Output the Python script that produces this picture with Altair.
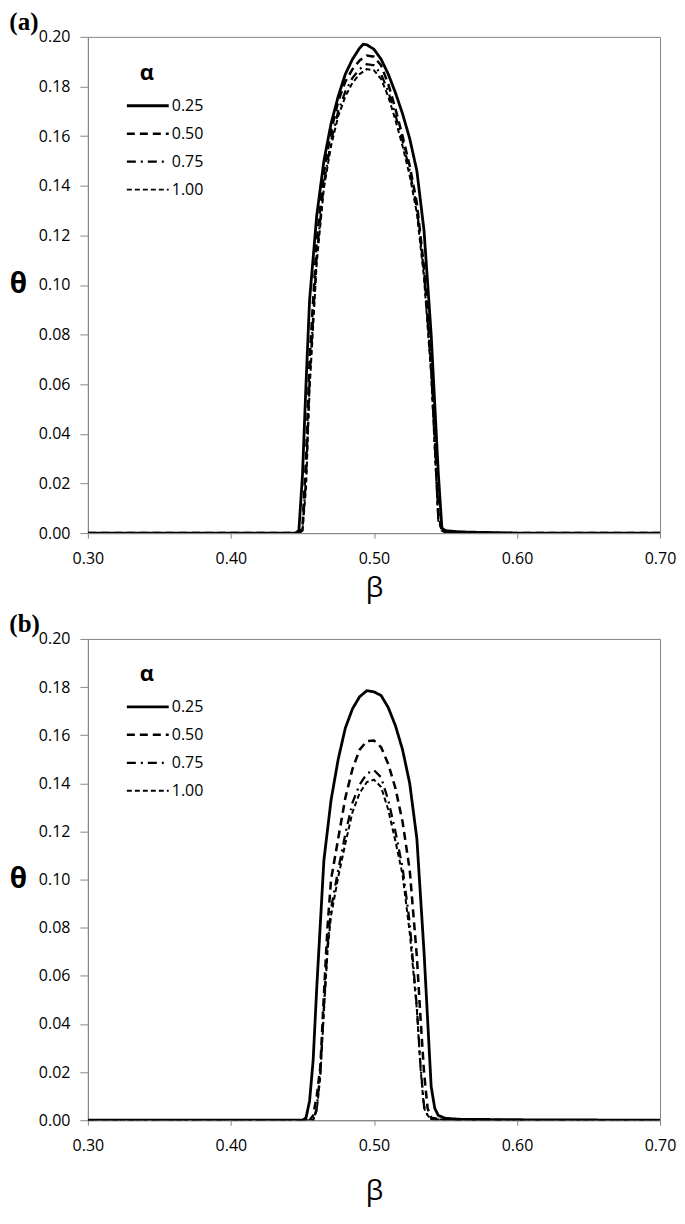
import altair as alt
import pandas as pd

ALPHAS = ["0.25", "0.50", "0.75", "1.00"]
X_TICKS = [0.30, 0.40, 0.50, 0.60, 0.70]
Y_TICKS = [0.00, 0.02, 0.04, 0.06, 0.08, 0.10, 0.12, 0.14, 0.16, 0.18, 0.20]

# ---------------- panel (a) ----------------
a_beta_025 = [0.30, 0.40, 0.445, 0.4475, 0.450, 0.4525, 0.455, 0.460, 0.465, 0.470,
              0.475, 0.480, 0.485, 0.490, 0.4925, 0.495, 0.500, 0.505, 0.510, 0.515,
              0.520, 0.525, 0.530, 0.535, 0.540, 0.545, 0.5475, 0.550, 0.560, 0.580,
              0.600, 0.700]
a_theta_025 = [0, 0, 0, 0.001, 0.023, 0.060, 0.094, 0.128, 0.150, 0.165,
               0.176, 0.185, 0.191, 0.1955, 0.197, 0.1968, 0.195, 0.191, 0.185, 0.1775,
               0.169, 0.159, 0.146, 0.122, 0.080, 0.024, 0.002, 0.001, 0.0005, 0.0002,
               0, 0]

a_beta = [0.30, 0.40, 0.4475, 0.450, 0.4525, 0.455, 0.460, 0.465, 0.470, 0.475,
          0.480, 0.485, 0.490, 0.495, 0.500, 0.505, 0.510, 0.515, 0.520, 0.525,
          0.530, 0.535, 0.540, 0.5425, 0.545, 0.5475, 0.550, 0.600, 0.700]
a_theta_050 = [0, 0, 0, 0.002, 0.030, 0.070, 0.118, 0.145, 0.162, 0.174,
               0.182, 0.187, 0.1905, 0.1925, 0.192, 0.1885, 0.181, 0.171, 0.160, 0.148,
               0.133, 0.107, 0.068, 0.040, 0.008, 0.001, 0.0005, 0, 0]
a_theta_075 = [0, 0, 0, 0.001, 0.022, 0.062, 0.112, 0.141, 0.158, 0.170,
               0.178, 0.1835, 0.187, 0.189, 0.1885, 0.185, 0.178, 0.1685, 0.158, 0.146,
               0.131, 0.105, 0.066, 0.036, 0.006, 0.001, 0.0004, 0, 0]
a_theta_100 = [0, 0, 0, 0.001, 0.018, 0.058, 0.109, 0.139, 0.156, 0.168,
               0.176, 0.1815, 0.185, 0.187, 0.1865, 0.183, 0.176, 0.1665, 0.156, 0.144,
               0.129, 0.103, 0.064, 0.034, 0.005, 0.001, 0.0003, 0, 0]

# ---------------- panel (b) ----------------
b_beta_025 = [0.30, 0.40, 0.450, 0.4525, 0.455, 0.4575, 0.460, 0.465, 0.470, 0.475,
              0.480, 0.485, 0.490, 0.495, 0.500, 0.505, 0.510, 0.515, 0.520, 0.525,
              0.530, 0.535, 0.540, 0.5425, 0.545, 0.550, 0.560, 0.600, 0.700]
b_theta_025 = [0, 0, 0, 0.001, 0.008, 0.025, 0.055, 0.108, 0.133, 0.150,
               0.163, 0.171, 0.176, 0.1785, 0.178, 0.1765, 0.1715, 0.164, 0.154, 0.140,
               0.117, 0.070, 0.014, 0.005, 0.002, 0.0008, 0.0004, 0.0002, 0]

b_beta = [0.30, 0.40, 0.455, 0.4575, 0.460, 0.4625, 0.465, 0.4675, 0.470, 0.475,
          0.480, 0.485, 0.490, 0.495, 0.500, 0.505, 0.510, 0.515, 0.520, 0.525,
          0.530, 0.5325, 0.535, 0.5375, 0.540, 0.545, 0.550, 0.600, 0.700]
b_theta_050 = [0, 0, 0, 0.002, 0.010, 0.022, 0.052, 0.080, 0.100, 0.117,
               0.134, 0.146, 0.154, 0.1575, 0.1578, 0.155, 0.148, 0.138, 0.124, 0.104,
               0.068, 0.043, 0.020, 0.005, 0.001, 0.0005, 0.0003, 0, 0]
b_theta_075 = [0, 0, 0, 0, 0.005, 0.020, 0.047, 0.072, 0.088, 0.104,
               0.119, 0.132, 0.1395, 0.144, 0.1455, 0.1425, 0.133, 0.120, 0.105, 0.082,
               0.047, 0.023, 0.006, 0.002, 0.0005, 0.0003, 0.0002, 0, 0]
b_theta_100 = [0, 0, 0, 0, 0.004, 0.018, 0.045, 0.070, 0.085, 0.101,
               0.115, 0.128, 0.136, 0.1405, 0.1415, 0.1385, 0.129, 0.116, 0.102, 0.078,
               0.046, 0.022, 0.005, 0.002, 0.0005, 0.0003, 0.0002, 0, 0]


def frame(series):
    rows = []
    for alpha, xs, ys in series:
        for x, y in zip(xs, ys):
            rows.append({"beta": x, "theta": y, "alpha": alpha})
    return pd.DataFrame(rows)


df_a = frame([("0.25", a_beta_025, a_theta_025), ("0.50", a_beta, a_theta_050),
              ("0.75", a_beta, a_theta_075), ("1.00", a_beta, a_theta_100)])
df_b = frame([("0.25", b_beta_025, b_theta_025), ("0.50", b_beta, b_theta_050),
              ("0.75", b_beta, b_theta_075), ("1.00", b_beta, b_theta_100)])

FONT = "Open Sans"
GRAY = "#868686"
PLOT_W = 573

dash_scale = alt.Scale(domain=ALPHAS, range=[[1, 0], [8, 5], [9, 5, 2, 5], [5, 3]])
width_scale = alt.Scale(domain=ALPHAS, range=[2.8, 2.0, 2.0, 2.0])


def make_legend(height):
    return alt.Legend(
        title="α", orient="none", legendX=52, legendY=int(round(height * 0.0523)),
        padding=0,
        symbolType="M-4,0H4", symbolSize=110, symbolStrokeColor="black",
        labelOffset=16, rowPadding=12, titlePadding=13,
        titleFont=FONT, titleFontSize=22, titleFontWeight="bold", titleColor="black",
        titleAnchor="start", labelFont=FONT, labelFontSize=16, labelColor="black",
    )


def panel(df, label, height, xtitle_pad):
    legend = make_legend(height)
    return alt.Chart(df).mark_line(color="black", strokeCap="butt", clip=True).encode(
        x=alt.X("beta:Q",
                scale=alt.Scale(domain=[0.3, 0.7], nice=False, zero=False),
                axis=alt.Axis(values=X_TICKS, format=".2f", title="β", grid=False,
                              labelFlush=False, labelOverlap=False,
                              tickSize=5, labelPadding=12, titlePadding=xtitle_pad,
                              titleFontSize=28, titleFontWeight="normal")),
        y=alt.Y("theta:Q",
                scale=alt.Scale(domain=[0, 0.2], nice=False),
                axis=alt.Axis(values=Y_TICKS, format=".2f", title="θ", grid=False,
                              labelFlush=False, labelOverlap=False,
                              tickSize=8, labelPadding=10,
                              titleAngle=0, titleX=-70, titleY=height / 2,
                              titleAlign="center", titleBaseline="middle",
                              titleFontSize=28, titleFontWeight="bold")),
        strokeDash=alt.StrokeDash("alpha:O", scale=dash_scale, legend=legend),
        strokeWidth=alt.StrokeWidth("alpha:O", scale=width_scale, legend=legend),
    ).properties(
        width=PLOT_W, height=height,
        title=alt.TitleParams(label, anchor="start", frame="bounds",
                              font="Liberation Serif", fontSize=25,
                              fontWeight="bold", color="black", offset=-6),
    )


chart = alt.vconcat(panel(df_a, "(a)", 497, 8), panel(df_b, "(b)", 482, 24),
                    spacing=8).resolve_legend(
    strokeDash="independent", strokeWidth="independent"
).properties(padding=0).configure_axis(
    domainColor=GRAY, tickColor=GRAY, domainWidth=1, tickWidth=1,
    labelFont=FONT, labelFontSize=16, labelColor="black",
    titleFont=FONT, titleColor="black",
).configure_view(stroke=GRAY, strokeWidth=1)

chart.save("out.html", embed_options={"renderer": "svg", "actions": False})
